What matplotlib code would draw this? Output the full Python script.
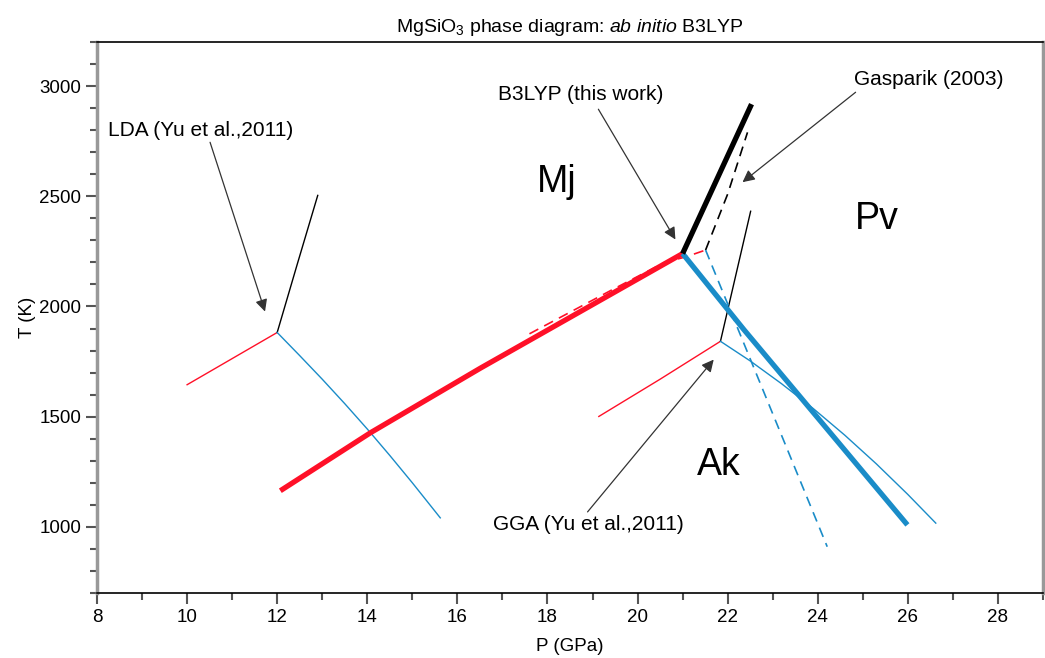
import matplotlib
matplotlib.use("Agg")
import matplotlib.pyplot as plt
from matplotlib.ticker import MultipleLocator

plt.rcParams['font.family'] = ['Liberation Sans', 'DejaVu Sans']
plt.rcParams['mathtext.fontset'] = 'custom'
plt.rcParams['mathtext.rm'] = 'Liberation Sans'
plt.rcParams['mathtext.it'] = 'Liberation Sans:italic'

# ---- data (P in GPa, T in K) ----
# B3LYP (this work)
b3_mj_ak_P = [12.07, 14.07, 16.51, 21.0]
b3_mj_ak_T = [1164, 1427, 1720, 2240]
b3_mj_pv_P = [21.0, 22.53]
b3_mj_pv_T = [2240, 2918]
b3_ak_pv_P = [21.0, 22.36, 25.99]
b3_ak_pv_T = [2240, 1895, 1009]

# Gasparik (2003)
ga_mj_ak_P = [17.6, 19.4, 20.6, 21.07, 21.51]
ga_mj_ak_T = [1876, 2072, 2200, 2225, 2256]
ga_mj_pv_P = [21.51, 22.0, 22.44]
ga_mj_pv_T = [2256, 2510, 2790]
ga_ak_pv_P = [21.51, 24.21]
ga_ak_pv_T = [2256, 910]

# LDA (Yu et al., 2011)
lda_mj_ak_P = [10.0, 12.0]
lda_mj_ak_T = [1645, 1882]
lda_mj_pv_P = [12.0, 12.45, 12.9]
lda_mj_pv_T = [1882, 2195, 2504]
lda_ak_pv_P = [12.0, 12.5, 13.0, 13.5, 14.0, 14.5, 15.0, 15.62]
lda_ak_pv_T = [1882, 1777, 1670, 1559, 1444, 1324, 1200, 1041]

# GGA (Yu et al., 2011)
gga_mj_ak_P = [19.14, 20.5, 21.84]
gga_mj_ak_T = [1501, 1670, 1842]
gga_mj_pv_P = [21.84, 22.51]
gga_mj_pv_T = [1842, 2432]
gga_ak_pv_P = [21.84, 22.5, 23.2, 23.9, 24.6, 25.3, 26.0, 26.62]
gga_ak_pv_T = [1842, 1753, 1649, 1537, 1416, 1286, 1147, 1017]

# text labels
phase_names = ['Mj', 'Pv', 'Ak']
phase_P = [18.2, 25.3, 21.8]
phase_T = [2563, 2395, 1282]

RED = '#ff1028'
BLUE = '#1a8cc8'
BLACK = '#000000'

fig = plt.figure(figsize=(10.45, 6.58), dpi=100)
ax = fig.add_axes([97/1045, 65/658, (1043-97)/1045, (593-42)/658])

# thin lines (LDA, GGA)
for P, T, c in [(lda_mj_ak_P, lda_mj_ak_T, RED), (lda_mj_pv_P, lda_mj_pv_T, BLACK),
                (lda_ak_pv_P, lda_ak_pv_T, BLUE), (gga_mj_ak_P, gga_mj_ak_T, RED),
                (gga_mj_pv_P, gga_mj_pv_T, BLACK), (gga_ak_pv_P, gga_ak_pv_T, BLUE)]:
    ax.plot(P, T, color=c, lw=1.0)

# dashed (Gasparik)
for P, T, c in [(ga_mj_ak_P, ga_mj_ak_T, RED), (ga_mj_pv_P, ga_mj_pv_T, BLACK),
                (ga_ak_pv_P, ga_ak_pv_T, BLUE)]:
    ax.plot(P, T, color=c, lw=1.2, ls=(0, (6, 4)))

# thick (B3LYP)
for P, T, c in [(b3_mj_ak_P, b3_mj_ak_T, RED), (b3_ak_pv_P, b3_ak_pv_T, BLUE),
                (b3_mj_pv_P, b3_mj_pv_T, BLACK)]:
    ax.plot(P, T, color=c, lw=3.8, solid_capstyle='butt')

ax.set_xlim(8, 29)
ax.set_ylim(700, 3200)
ax.xaxis.set_major_locator(MultipleLocator(2))
ax.xaxis.set_minor_locator(MultipleLocator(1))
ax.yaxis.set_major_locator(MultipleLocator(500))
ax.yaxis.set_minor_locator(MultipleLocator(100))
ax.tick_params(axis='both', which='both', direction='out', colors='#555555',
               labelcolor='black', labelsize=13.5)
ax.tick_params(which='major', length=8, width=1.5)
ax.tick_params(which='minor', length=5, width=1.5)
for s in ['left', 'right']:
    ax.spines[s].set_color('#999999')
    ax.spines[s].set_linewidth(2.5)
for s in ['top', 'bottom']:
    ax.spines[s].set_color('black')
    ax.spines[s].set_linewidth(1.2)

ax.set_xlabel('P (GPa)', fontsize=13.5, labelpad=9)
ax.set_ylabel('T (K)', fontsize=13.5, labelpad=2)
fig.text(570/1045, 1 - 28/658, r'MgSiO$_3$ phase diagram: $\mathit{ab\ initio}$ B3LYP',
         ha='center', va='center', fontsize=14)

# phase labels
for name, p, t in zip(phase_names, phase_P, phase_T):
    ax.text(p, t, name, fontsize=27, ha='center', va='center')

aprops = dict(arrowstyle='-|>', color='#333333', lw=0.9, mutation_scale=18,
              shrinkA=0, shrinkB=0)
ax.text(8.24, 2800, 'LDA (Yu et al.,2011)', fontsize=15, ha='left', va='center')
ax.annotate('', xy=(11.73, 1977), xytext=(10.51, 2745), arrowprops=aprops)
ax.text(16.91, 2963, 'B3LYP (this work)', fontsize=15, ha='left', va='center')
ax.annotate('', xy=(20.84, 2304), xytext=(19.13, 2895), arrowprops=aprops)
ax.text(24.8, 3032, 'Gasparik (2003)', fontsize=15, ha='left', va='center')
ax.annotate('', xy=(22.33, 2564), xytext=(24.84, 2972), arrowprops=aprops)
ax.text(16.8, 1009, 'GGA (Yu et al.,2011)', fontsize=15, ha='left', va='center')
ax.annotate('', xy=(21.69, 1759), xytext=(18.89, 1068), arrowprops=aprops)

fig.savefig('out.png', dpi=100)
